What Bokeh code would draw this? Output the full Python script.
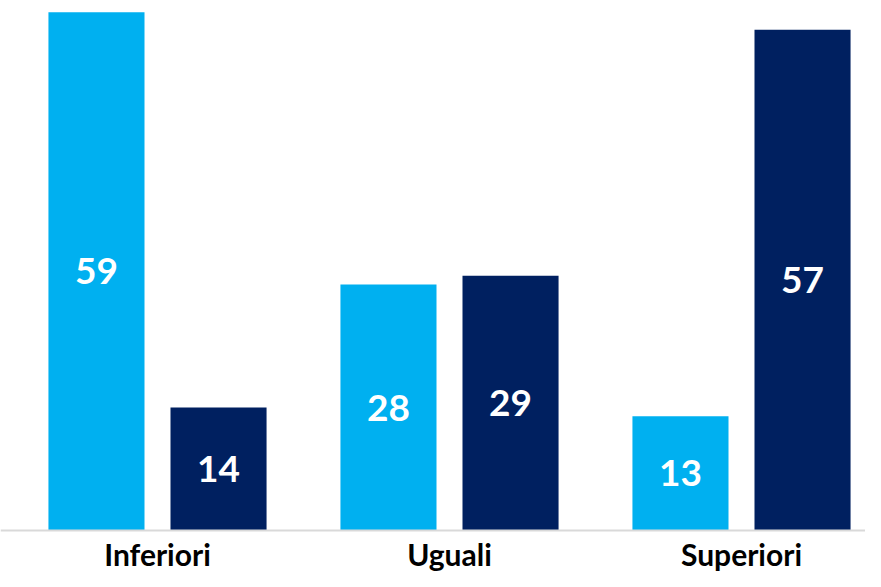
from bokeh.plotting import figure
from bokeh.models import ColumnDataSource, Range1d, Span
from bokeh.transform import dodge
from bokeh.core.properties import value
from bokeh.embed import file_html
from bokeh.resources import INLINE

categories = ["Inferiori", "Uguali", "Superiori"]
light_values = [59, 28, 13]
dark_values = [14, 29, 57]

LIGHT = "#00B0F0"
DARK = "#002060"

idx = list(range(len(categories)))
src = ColumnDataSource(dict(
    idx=idx,
    cat=categories,
    zero=[0] * len(categories),
    light=light_values,
    dark=dark_values,
    light_mid=[v / 2 for v in light_values],
    dark_mid=[v / 2 for v in dark_values],
    light_txt=[str(v) for v in light_values],
    dark_txt=[str(v) for v in dark_values],
))

W, H = 865, 571
px_per_unit = 8.785
base_px = 530          # canvas y of the zero line
group_px = 292         # pixels per category
first_center_px = 157  # canvas x of first category centre

x0 = -first_center_px / group_px
y0 = -(H - base_px) / px_per_unit
p = figure(width=W, height=H, output_backend="svg", toolbar_location=None,
           x_range=Range1d(x0, x0 + W / group_px),
           y_range=Range1d(y0, y0 + H / px_per_unit),
           x_axis_location=None, y_axis_location=None,
           min_border_left=0, min_border_right=0,
           min_border_top=0, min_border_bottom=0)
p.outline_line_color = None
p.xgrid.visible = False
p.ygrid.visible = False

off = 0.209
bw = 0.329
p.vbar(x=dodge("idx", -off), top="light", width=bw, source=src,
       fill_color=LIGHT, line_color=None)
p.vbar(x=dodge("idx", off), top="dark", width=bw, source=src,
       fill_color=DARK, line_color=None)

for col, mid, txt in ((-off, "light_mid", "light_txt"), (off, "dark_mid", "dark_txt")):
    p.text(x=dodge("idx", col), y=mid, text=txt, source=src,
           text_color="white", text_font=value("Lato"), text_font_style="bold",
           text_font_size="37px", text_align="center", text_baseline="middle")

# baseline rule
p.add_layout(Span(location=0, dimension="width", line_color="#D9D9D9", line_width=2))

# category labels
p.text(x="idx", y="zero", text="cat", source=src, y_offset=23,
       text_color="#000000", text_font=value("Lato"), text_font_style="bold",
       text_font_size="30px", text_align="center", text_baseline="alphabetic")

open("out.html", "w").write(file_html(p, INLINE))
